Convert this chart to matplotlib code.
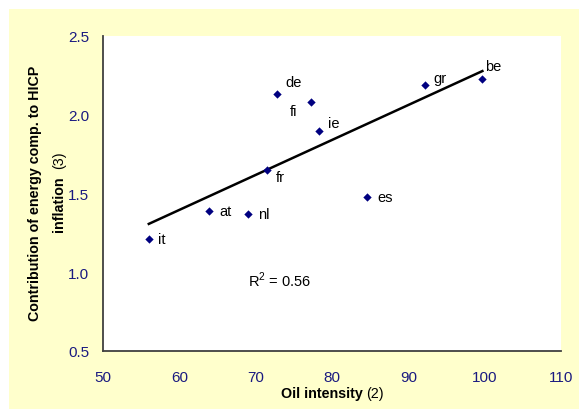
import numpy as np
import matplotlib
matplotlib.use("Agg")
import matplotlib.pyplot as plt
from matplotlib.patches import Rectangle

countries = ["it", "at", "nl", "fr", "de", "fi", "ie", "es", "gr", "be"]
oil_intensity = [56.0, 63.9, 69.05, 71.5, 72.8, 77.3, 78.3, 84.6, 92.2, 99.7]
energy_contrib = [1.21, 1.39, 1.37, 1.65, 2.13, 2.08, 1.90, 1.48, 2.19, 2.23]
x_ticks = [50, 60, 70, 80, 90, 100, 110]
y_ticks = [0.5, 1.0, 1.5, 2.0, 2.5]

FONT = "Liberation Sans"
plt.rcParams["font.family"] = FONT
plt.rcParams["mathtext.fontset"] = "custom"
plt.rcParams["mathtext.rm"] = FONT

fig = plt.figure(figsize=(5.79, 4.10), dpi=100, facecolor="white")
W, H = 579, 410
fig.patches.append(Rectangle((9 / W, 0), 1 - 9 / W, 1 - 10 / H, transform=fig.transFigure,
                             facecolor="#FFFFCC", edgecolor="none", zorder=-5))

ax = fig.add_axes([103 / W, 1 - 352 / H, (561 - 103) / W, (352 - 37) / H])
ax.set_zorder(1)
ax.set_facecolor("white")
ax.set_xlim(50, 110)
ax.set_ylim(0.5, 2.5)

x = np.array(oil_intensity)
y = np.array(energy_contrib)
slope, intercept = np.polyfit(x, y, 1)
xs = np.array([x.min(), x.max()])
ax.plot(xs, slope * xs + intercept, color="black", lw=1.8, zorder=2)
ax.scatter(x, y, marker="D", s=18, color="#000080", zorder=3, linewidths=0)

offsets = {"it": (9, 0), "at": (10, 0), "nl": (10, 0), "fr": (9, -7), "de": (8, 12),
           "fi": (-22, -9), "ie": (9, 8), "es": (10, 0), "gr": (8, 7), "be": (3, 13)}
for c, xi, yi in zip(countries, x, y):
    ax.annotate(c, (xi, yi), xytext=offsets[c], textcoords="offset pixels",
                ha="left", va="center", fontsize=10.5, color="black")

fig.text(248 / W, 1 - 280 / H, "R$^2$ = 0.56", fontsize=10.5, ha="left", va="center")

ax.set_xticks(x_ticks)
ax.set_yticks(y_ticks)
ax.set_xticklabels([str(t) for t in x_ticks])
ax.set_yticklabels([f"{t:.1f}" for t in y_ticks])
for lab in ax.get_xticklabels() + ax.get_yticklabels():
    lab.set_fontsize(11)
    lab.set_color("#1A1A80")
ax.tick_params(length=0, pad=10)
ax.tick_params(axis="x", pad=14)

for s in ["top", "right"]:
    ax.spines[s].set_visible(False)
for s in ["left", "bottom"]:
    ax.spines[s].set_color("#404040")
    ax.spines[s].set_linewidth(1.3)

fig.text(363 / W, 1 - 394 / H, "Oil intensity", ha="right", va="center",
         fontsize=10.3, fontweight="bold")
fig.text(366 / W, 1 - 394 / H, "(2)", ha="left", va="center", fontsize=10.3)
fig.text(35 / W, 1 - 193 / H, "Contribution of energy comp. to HICP", rotation=90,
         ha="center", va="center", fontsize=10.3, fontweight="bold")
fig.text(59 / W, 1 - 232 / H, "inflation", rotation=90,
         ha="center", va="bottom", fontsize=10.3, fontweight="bold")
fig.text(59 / W, 1 - 169 / H, "(3)", rotation=90,
         ha="center", va="bottom", fontsize=10.3)

fig.savefig("out.png", dpi=100, facecolor="white")
